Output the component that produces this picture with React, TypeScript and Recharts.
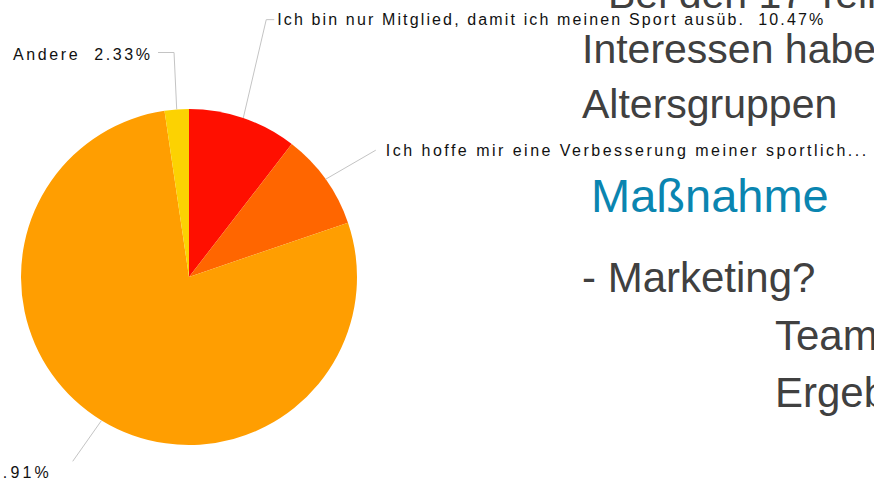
import { PieChart, Pie, Cell } from "recharts";

// answers to "why are you a member" (amCharts style pie on a slide)
const answers = [
  "Ich bin nur Mitglied, damit ich meinen Sport ausüb.",
  "Ich hoffe mir eine Verbesserung meiner sportlich...",
  "",
  "Andere",
];
const shares = [10.47, 9.29, 77.91, 2.33];
const sliceColors = ["#FF0F00", "#FF6600", "#FF9E01", "#FCD202"];

// slide text beside the chart
const slideLines = [
  "Bei den 17 Teilnehmern",
  "Interessen haben",
  "Altersgruppen",
  "Maßnahme",
  "- Marketing?",
  "Team",
  "Ergebnis",
];

const data = answers.map((name, i) => ({ name, value: shares[i] }));

// leader line layout per slice: turn (deg) and length of the line, horizontal tail, gap to text
const leaders = [
  { turn: 5.7, length: 101, tail: 8, gap: 3, anchor: "start", width: 546, dy: 0 },
  { turn: -5.5, length: 58, tail: 0, gap: 10, anchor: "start", width: 552, dy: 0 },
  { turn: -3.8, length: 50, tail: 0, gap: 24, anchor: "end", width: 70, dy: 11 },
  { turn: -1.5, length: 57, tail: -16, gap: 8, anchor: "end", width: 137, dy: 2 },
];

const RAD = Math.PI / 180;

function LeaderLabel(props: any) {
  const { cx, cy, midAngle, outerRadius, index, name, value } = props;
  const cfg = leaders[index];
  const sx = cx + outerRadius * Math.cos(-midAngle * RAD);
  const sy = cy + outerRadius * Math.sin(-midAngle * RAD);
  const a = midAngle + cfg.turn;
  const ex = sx + cfg.length * Math.cos(-a * RAD);
  const ey = sy + cfg.length * Math.sin(-a * RAD);
  const tx = ex + cfg.tail;
  const dir = cfg.anchor === "start" ? 1 : -1;
  const label = (name ? name + "  " : "") + value.toFixed(2) + "%";
  return (
    <g>
      <polyline
        points={`${sx},${sy} ${ex},${ey} ${tx},${ey}`}
        fill="none"
        stroke="#c4c4c4"
        strokeWidth={1}
      />
      <text
        x={tx + dir * cfg.gap}
        y={ey + cfg.dy}
        textAnchor={cfg.anchor}
        dominantBaseline="central"
        fontSize={16}
        fontFamily="'Liberation Sans', Arial, sans-serif"
        fill="#111"
        textLength={cfg.width}
        lengthAdjust="spacing"
        style={{ whiteSpace: "pre" }}
      >
        {label}
      </text>
    </g>
  );
}

const textStyle = { fontFamily: "'Liberation Sans', Arial, sans-serif", fill: "#404040" };

export default function App() {
  return (
    <div style={{ position: "fixed", left: 0, top: 0, width: 874, height: 481, overflow: "hidden", background: "#fff" }}>
      <svg width={874} height={481} style={{ position: "absolute", left: 0, top: 0 }}>
        <text x={608} y={8} fontSize={41} {...textStyle}>{slideLines[0]}</text>
        <text x={582} y={63} fontSize={41} {...textStyle}>{slideLines[1]}</text>
        <text x={582} y={118} fontSize={41} {...textStyle}>{slideLines[2]}</text>
        <text x={591} y={212} fontSize={47} {...textStyle} fill="#0a85b0">{slideLines[3]}</text>
        <text x={582} y={292} fontSize={42} {...textStyle}>{slideLines[4]}</text>
        <text x={775} y={350} fontSize={42} {...textStyle}>{slideLines[5]}</text>
        <text x={775} y={407} fontSize={42} {...textStyle}>{slideLines[6]}</text>
      </svg>
      <div style={{ position: "absolute", left: 0, top: 0 }}>
        <PieChart width={874} height={481} margin={{ top: 0, right: 0, bottom: 0, left: 0 }} style={{ overflow: "visible" }}>
          <Pie
            data={data}
            dataKey="value"
            nameKey="name"
            cx={189}
            cy={277}
            outerRadius={168}
            startAngle={90}
            endAngle={-270}
            stroke="none"
            label={LeaderLabel}
            labelLine={false}
            isAnimationActive={false}
          >
            {data.map((d, i) => (
              <Cell key={d.name + i} fill={sliceColors[i]} />
            ))}
          </Pie>
        </PieChart>
      </div>
    </div>
  );
}
